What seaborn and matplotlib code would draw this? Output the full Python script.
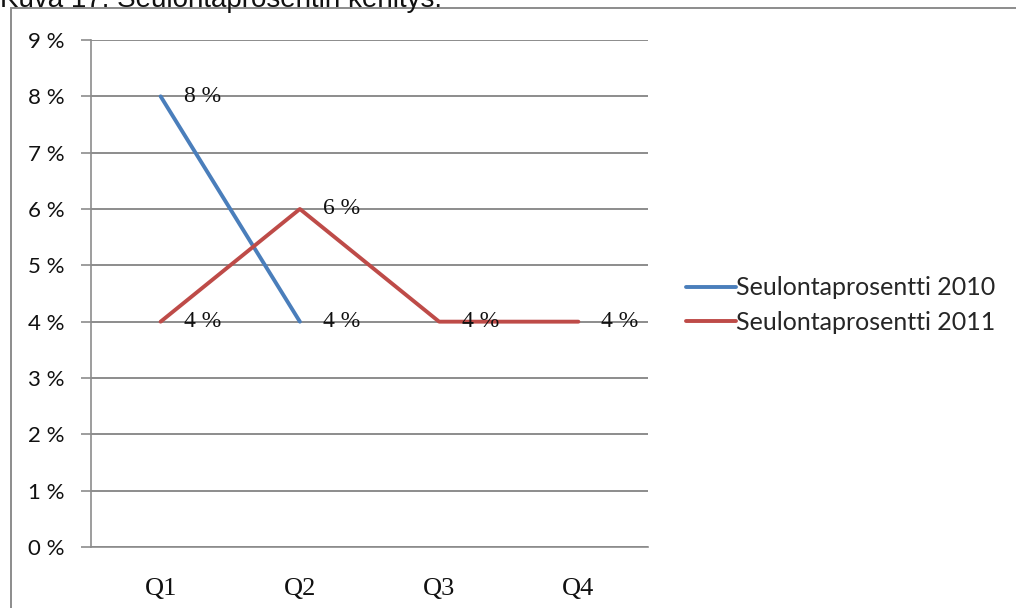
import matplotlib
matplotlib.use("Agg")
import matplotlib.pyplot as plt
import matplotlib.patches as mpatches
import seaborn as sns
import pandas as pd
import numpy as np

quarters = ["Q1", "Q2", "Q3", "Q4"]
series_2010_name = "Seulontaprosentti 2010"
series_2011_name = "Seulontaprosentti 2011"
values_2010 = [8, 4, None, None]
values_2011 = [4, 6, 4, 4]
y_ticks = [0, 1, 2, 3, 4, 5, 6, 7, 8, 9]
title_text = "Kuva 17. Seulontaprosentin kehitys."

rows = []
for q, v in zip(quarters, values_2010):
    if v is not None:
        rows.append({"quarter": q, "value": v, "series": series_2010_name})
for q, v in zip(quarters, values_2011):
    if v is not None:
        rows.append({"quarter": q, "value": v, "series": series_2011_name})
df = pd.DataFrame(rows)
df["xpos"] = df["quarter"].map({q: i for i, q in enumerate(quarters)})

sns.set_theme(style="white")
plt.rcParams["font.family"] = ["Lato", "DejaVu Sans"]

W, H = 1016, 608
fig = plt.figure(figsize=(W / 100, H / 100), dpi=100)
fig.patch.set_facecolor("white")

# outer frame (cropped at right/bottom)
frame = mpatches.Rectangle((11 / W, -0.2), 1.2, 1 - 8 / H + 0.2,
                           transform=fig.transFigure, fill=False,
                           edgecolor="#8c8c8c", linewidth=1.4, zorder=0)
fig.patches.append(frame)

fig.text(0.0, 1 - 7 / H, title_text, ha="left", va="baseline",
         fontsize=20, family=["Liberation Sans"], color="#111111")

ax = fig.add_axes([91 / W, 1 - 547 / H, (648 - 91) / W, (547 - 40) / H])

palette = {series_2010_name: "#4a7ebb", series_2011_name: "#be4b48"}
sns.lineplot(data=df, x="xpos", y="value", hue="series", palette=palette,
             linewidth=2.8, ax=ax, legend=False, sort=False)

# data labels
for vals in (values_2010, values_2011):
    for i, v in enumerate(vals):
        if v is not None:
            ax.annotate(f"{v} %", xy=(i, v), xytext=(16.5, 0),
                        textcoords="offset points", ha="left", va="center",
                        fontsize=17, family=["Liberation Serif"], color="#111111")

ax.set_xlim(-0.5, len(quarters) - 0.5)
ax.set_ylim(y_ticks[0], y_ticks[-1])
ax.set_yticks(y_ticks)
ax.set_yticklabels([f"{t} %" for t in y_ticks], fontsize=16, color="#111111")
ax.set_xticks(range(len(quarters)))
ax.set_xticklabels(quarters, fontsize=19, family=["Liberation Serif"], color="#111111")
ax.set_xticks(np.arange(-0.5, len(quarters), 1.0), minor=True)
ax.tick_params(axis="x", which="major", length=0, pad=22)
ax.tick_params(axis="x", which="minor", length=7, width=1.2, color="#8c8c8c", direction="out")
ax.tick_params(axis="y", which="major", length=7, width=1.2, color="#8c8c8c", direction="out", pad=12, left=True)
ax.set_xlabel("")
ax.set_ylabel("")
ax.grid(axis="y", color="#8c8c8c", linewidth=1.4)
ax.set_axisbelow(True)
for side in ("top", "right"):
    ax.spines[side].set_visible(False)
for side in ("left", "bottom"):
    ax.spines[side].set_color("#8c8c8c")
    ax.spines[side].set_linewidth(1.2)

handles = [plt.Line2D([], [], color=palette[series_2010_name], linewidth=2.8),
           plt.Line2D([], [], color=palette[series_2011_name], linewidth=2.8)]
fig.legend(handles, [series_2010_name, series_2011_name],
           loc="center left", bbox_to_anchor=(686 / W, 1 - 305 / H),
           frameon=False, fontsize=18, handlelength=2.0, handletextpad=0.0,
           labelspacing=0.45, borderaxespad=0, borderpad=0)

fig.savefig("out.png", dpi=100, facecolor="white")
